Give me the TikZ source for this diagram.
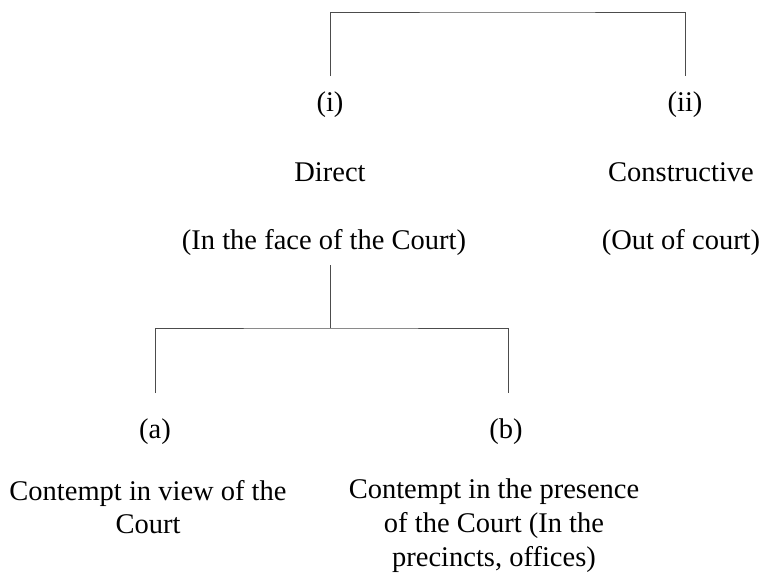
\documentclass[tikz,border=0pt]{standalone}
\usepackage{fontspec}
\setmainfont{Liberation Serif}
\begin{document}
\begin{tikzpicture}[x=1pt,y=-1pt,
  lbl/.style={inner sep=0pt,align=center,font=\fontsize{28.5}{32.5}\selectfont,text=black},
  conn/.style={draw=black!70,line width=0.9pt}]
\useasboundingbox (0,0) rectangle (765,573);
\node[lbl] (i) at (330,105) {(i)};
\node[lbl] (ii) at (685,105) {(ii)};
\node[lbl] (direct) at (330,172) {Direct};
\node[lbl] (constr) at (681,172) {Constructive};
\node[lbl] (face) at (324,242) {(In the face of the Court)};
\node[lbl] (out) at (681,242) {(Out of court)};
\node[lbl] (a) at (155,432) {(a)};
\node[lbl] (b) at (506,432) {(b)};
\node[lbl] (view) at (148,507) {Contempt in view of the\\Court};
\node[lbl,font=\fontsize{28.5}{34}\selectfont] (pres) at (494,526) {Contempt in the presence\\of the Court (In the\\precincts, offices)};
\coordinate (top) at (507,12);
\coordinate (mid) at (330,328);
\draw[conn] (330,76) |- (top) -| (685,76);
\draw[conn] (330,265) -- (mid);
\draw[conn] (155,393) |- (mid) -| (508,393);
\end{tikzpicture}
\end{document}
